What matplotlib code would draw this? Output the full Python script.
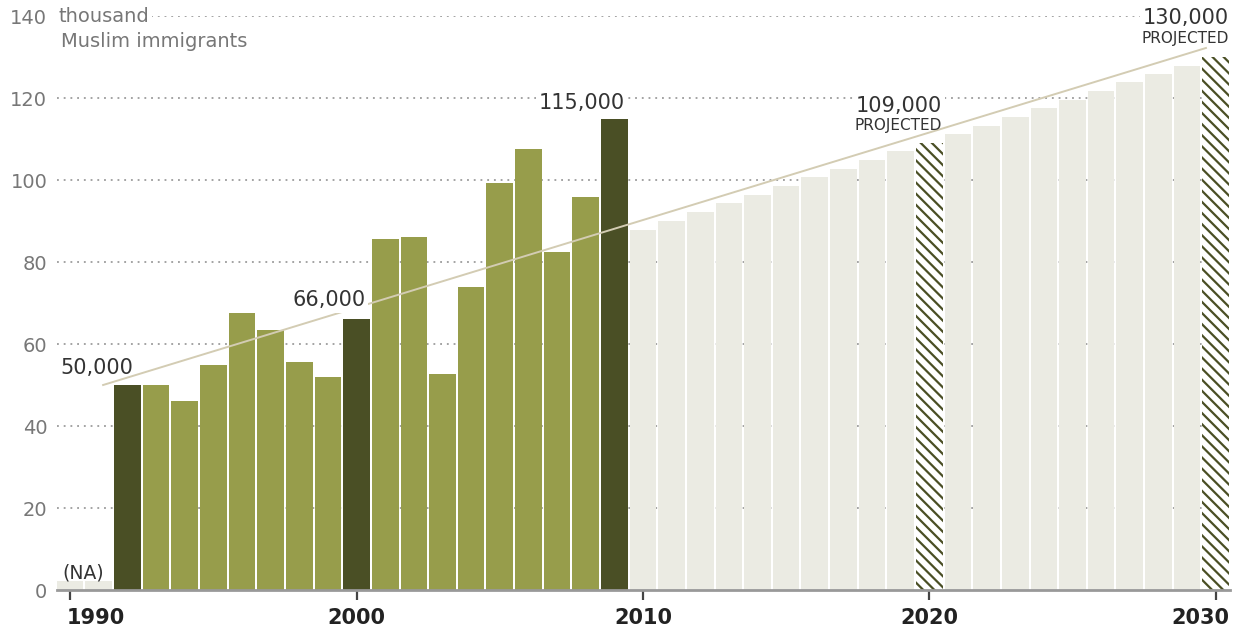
import numpy as np
import matplotlib.pyplot as plt
from matplotlib.transforms import ScaledTranslation

# Muslim immigrants to the U.S., thousands per year
years_na = [1990, 1991]
years_actual = list(range(1992, 2010))
values_actual = [50, 50, 46, 55, 67.5, 63.3, 55.6, 52, 66, 85.6, 86.1, 52.7,
                 73.9, 99.3, 107.6, 82.4, 95.9, 115]
years_proj = list(range(2010, 2031))
values_proj = [87.8, 90.0, 92.2, 94.4, 96.3, 98.5, 100.7, 102.7, 104.9, 107.1,
               109, 111.2, 113.2, 115.4, 117.6, 119.5, 121.7, 123.9, 125.9,
               127.8, 130]
highlight_years = [1992, 2000, 2009]
projected_marks = [2020, 2030]
trend_x = [1991.15, 2029.66]
trend_y = [50, 132.2]
xtick_years = [1990, 2000, 2010, 2020, 2030]

DARK = "#4a4f25"
MID = "#979d4b"
LIGHT = "#ebebe3"
GRID = "#8a8a8a"

plt.rcParams["font.family"] = "DejaVu Sans"
plt.rcParams["hatch.linewidth"] = 1.6
plt.rcParams["hatch.color"] = DARK

fig = plt.figure(figsize=(12.4, 6.3), dpi=100)
ax = fig.add_axes([57 / 1240, 40 / 630, 1173 / 1240, 574 / 630])

width = 0.93
ax.bar(years_na, [2.3, 2.3], width=width, color=LIGHT, zorder=2)
act_colors = [DARK if y in highlight_years else MID for y in years_actual]
ax.bar(years_actual, values_actual, width=width, color=act_colors, zorder=2)
for y, v in zip(years_proj, values_proj):
    if y in projected_marks:
        ax.bar(y, v, width=width, facecolor="white", edgecolor=DARK,
               linewidth=0, hatch="\\\\\\", zorder=2)
    else:
        ax.bar(y, v, width=width, color=LIGHT, zorder=2)

ax.plot(trend_x, trend_y, color="#d3ccb3", lw=1.4, zorder=3)

ax.set_xlim(1989.54, 2030.5)
ax.set_ylim(0, 140)

# dotted horizontal grid
for g in range(20, 141, 20):
    ax.axhline(g, color=GRID, lw=1.1, ls=(0, (1.2, 3.2)), zorder=1)

for s in ["top", "right", "left"]:
    ax.spines[s].set_visible(False)
ax.spines["bottom"].set_color("#999999")
ax.spines["bottom"].set_linewidth(2)
ax.spines["bottom"].set_zorder(4)

ax.set_yticks(range(0, 141, 20))
ax.set_yticklabels([str(v) for v in range(0, 141, 20)], color="#777777",
                   fontsize=14)
ax.tick_params(axis="y", length=0, pad=7)
ax.set_xticks(xtick_years)
ax.set_xticklabels([str(y) for y in xtick_years],
                   fontsize=15, fontweight="bold", color="#222222")
ax.tick_params(axis="x", length=7, width=1.6, color="#444444", pad=6,
               direction="out")

# keep the end labels inside the plotting width
xlabels = ax.get_xticklabels()
xlabels[0].set_ha("left")
xlabels[0].set_transform(xlabels[0].get_transform()
                         + ScaledTranslation(-0.03, 0, fig.dpi_scale_trans))
xlabels[-1].set_ha("right")
xlabels[-1].set_transform(xlabels[-1].get_transform()
                          + ScaledTranslation(0.14, 0, fig.dpi_scale_trans))

white = dict(facecolor="white", edgecolor="none", pad=2)
ax.text(0.001, 140, "thousand", transform=ax.get_yaxis_transform(),
        ha="left", va="center", fontsize=14, color="#777777", bbox=white,
        zorder=5)
ax.text(0.003, 133.8, "Muslim immigrants", transform=ax.get_yaxis_transform(),
        ha="left", va="center", fontsize=14, color="#777777", zorder=5)

label_kw = dict(fontsize=15, color="#333333", zorder=5)
ax.text(1989.67, 51.6, "50,000", ha="left", va="bottom", **label_kw)
ax.text(2000.3, 68.2, "66,000", ha="right", va="bottom", bbox=white,
        **label_kw)
ax.text(2009.37, 116.3, "115,000", ha="right", va="bottom", bbox=white,
        **label_kw)
ax.text(2020.45, 115.6, "109,000", ha="right", va="bottom", bbox=white,
        **label_kw)
ax.text(2020.45, 111.4, "PROJECTED", ha="right", va="bottom", fontsize=11,
        color="#333333", zorder=5)
ax.text(2030.45, 137.0, "130,000", ha="right", va="bottom", bbox=white,
        clip_on=False, **label_kw)
ax.text(2030.45, 132.8, "PROJECTED", ha="right", va="bottom", fontsize=11,
        color="#333333", zorder=5)
ax.text(1990.45, 1.9, "(NA)", ha="center", va="bottom", fontsize=13.5,
        color="#333333", zorder=5)

fig.savefig("out.png", dpi=100)
